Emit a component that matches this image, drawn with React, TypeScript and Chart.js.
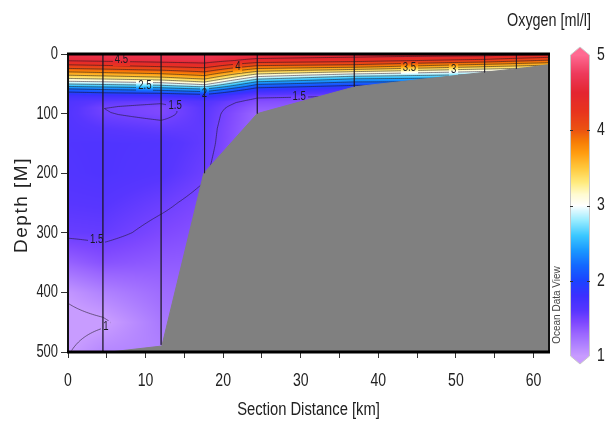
import React, { useEffect, useRef } from "react";
import { Chart, registerables } from "chart.js";

Chart.register(...registerables);

const FONT = '"Liberation Sans", Arial, sans-serif';

// Depth levels [m] of the gridded oxygen profiles
const DEPTHS = [0, 10, 20, 30, 40, 50, 60, 70, 80, 90, 100, 125, 150, 200, 250, 300, 350, 400, 450, 500];

// Section distance [km] of each gridded profile
const PROFILE_KM = [0, 4.5, 12, 17.6, 24.4, 36.9, 53.7, 57.8, 62];

// Oxygen [ml/l] per profile, one value per depth level
const O2_KM0 = [4.66, 4.55, 4.18, 3.75, 3.3, 2.78, 2.15, 1.76, 1.66, 1.64, 1.63, 1.64, 1.65, 1.64, 1.6, 1.54, 1.32, 1.04, 0.93, 0.99];
const O2_KM4 = [4.68, 4.58, 4.22, 3.8, 3.35, 2.82, 2.22, 1.78, 1.58, 1.5, 1.51, 1.6, 1.66, 1.66, 1.61, 1.55, 1.4, 1.15, 0.97, 1.12];
const O2_KM12 = [4.7, 4.62, 4.3, 3.88, 3.45, 2.9, 2.3, 1.8, 1.53, 1.44, 1.45, 1.56, 1.64, 1.62, 1.53, 1.45, 1.36, 1.27, 1.2, 1.15];
const O2_KM17 = [4.7, 4.65, 4.36, 4.0, 3.6, 3.1, 2.42, 1.88, 1.64, 1.6, 1.59, 1.57, 1.56, 1.52, 1.45, 1.4, 1.35, 1.3, 1.25, 1.2];
const O2_KM24 = [4.66, 4.45, 3.98, 3.45, 2.88, 2.3, 1.85, 1.55, 1.42, 1.35, 1.3, 1.28, 1.27, 1.26, 1.25, 1.22, 1.2, 1.18, 1.15, 1.15];
const O2_KM37 = [4.64, 4.38, 3.9, 3.22, 2.58, 2.1, 1.72, 1.5, 1.4, 1.35, 1.3, 1.28, 1.27, 1.26, 1.25, 1.22, 1.2, 1.18, 1.15, 1.15];
const O2_KM54 = [4.62, 4.22, 3.58, 2.95, 2.48, 2.12, 1.8, 1.6, 1.5, 1.45, 1.4, 1.35, 1.3, 1.28, 1.26, 1.24, 1.22, 1.2, 1.18, 1.15];
const O2_KM58 = [4.58, 4.12, 3.5, 2.9, 2.44, 2.1, 1.8, 1.6, 1.5, 1.45, 1.4, 1.35, 1.3, 1.28, 1.26, 1.24, 1.22, 1.2, 1.18, 1.15];
const O2_KM62 = [4.55, 4.02, 3.42, 2.86, 2.4, 2.1, 1.8, 1.6, 1.5, 1.45, 1.4, 1.35, 1.3, 1.28, 1.26, 1.24, 1.22, 1.2, 1.18, 1.15];
const PROFILES = [O2_KM0, O2_KM4, O2_KM12, O2_KM17, O2_KM24, O2_KM37, O2_KM54, O2_KM58, O2_KM62];

// CTD stations: position [km] and cast bottom [m]
const STATION_KM = [4.5, 12, 17.6, 24.4, 36.9, 53.7, 57.8];
const STATION_BOTTOM = [500, 488, 200, 100, 55, 31, 25];

// Seafloor outline
const SEAFLOOR_KM = [5.4, 12.1, 17.5, 24.4, 37, 59, 62];
const SEAFLOOR_DEPTH = [500, 490, 200, 100, 55, 23, 18];

// Isoline levels and their labels
const CONTOUR_LEVELS = [1, 1.5, 2, 2.25, 2.5, 2.75, 3, 3.25, 3.5, 3.75, 4, 4.25, 4.5];
const LABEL_KM = [6.9, 21.9, 44.0, 49.7, 9.9, 17.6, 13.8, 29.8, 3.7, 4.9];
const LABEL_DEPTH = [10, 22, 23, 27, 54, 66, 86, 72, 312, 458];
const LABEL_TEXT = ["4.5", "4", "3.5", "3", "2.5", "2", "1.5", "1.5", "1.5", "1"];

// Colour palette
const CMAP_VALUE = [1.0, 1.15, 1.3, 1.45, 1.6, 1.8, 2.0, 2.2, 2.4, 2.6, 2.8, 3.0, 3.15, 3.3, 3.5, 3.7, 3.85, 4.0, 4.25, 4.5, 4.75, 5.0];
const CMAP_COLOR = ["#c89cff", "#b082ff", "#9a66ff", "#7e48ff", "#5836ff", "#3c30ff", "#1c44ff", "#1468ff", "#1a98ff", "#3cc8ff", "#98ecff", "#ffffff", "#fffbd0", "#ffec80", "#ffc83c", "#ff9c10", "#f77c06", "#ec5412", "#e8341e", "#e42630", "#ee3a5c", "#ff6a92"];
const COLORBAR_TICKS = [1, 2, 3, 4, 5];

const X_TITLE = "Section Distance [km]";
const Y_TITLE = "Depth [M]";
const VAR_TITLE = "Oxygen [ml/l]";
const BRAND = "Ocean Data View";

function hexRgb(h: string): number[] {
  const n = parseInt(h.slice(1), 16);
  return [(n >> 16) & 255, (n >> 8) & 255, n & 255];
}
const CMAP_RGB = CMAP_COLOR.map(hexRgb);

function colorFor(v: number): number[] {
  const n = CMAP_VALUE.length;
  if (v <= CMAP_VALUE[0]) return CMAP_RGB[0];
  if (v >= CMAP_VALUE[n - 1]) return CMAP_RGB[n - 1];
  let k = 0;
  while (k < n - 2 && v > CMAP_VALUE[k + 1]) k++;
  const t = (v - CMAP_VALUE[k]) / (CMAP_VALUE[k + 1] - CMAP_VALUE[k]);
  const a = CMAP_RGB[k], b = CMAP_RGB[k + 1];
  return [a[0] + (b[0] - a[0]) * t, a[1] + (b[1] - a[1]) * t, a[2] + (b[2] - a[2]) * t];
}

function bracket(arr: number[], v: number): [number, number] {
  let k = 0;
  while (k < arr.length - 2 && v > arr[k + 1]) k++;
  let t = (v - arr[k]) / (arr[k + 1] - arr[k]);
  t = Math.max(0, Math.min(1, t));
  return [k, t];
}

// text drawn with a slight horizontal condensing
function narrowText(ctx: CanvasRenderingContext2D, txt: string, x: number, y: number, sx: number, align: CanvasTextAlign) {
  ctx.save();
  ctx.translate(x, y);
  ctx.scale(sx, 1);
  ctx.textAlign = align;
  ctx.fillText(txt, 0, 0);
  ctx.restore();
}

const sectionField = {
  id: "sectionField",
  beforeDatasetsDraw(chart: any) {
    const { ctx, chartArea: a, scales } = chart;
    const xs = scales.x, ys = scales.y;
    const w = Math.round(a.right - a.left);
    const h = Math.round(a.bottom - a.top);
    const cols = Array.from({ length: w }, (_, i) => bracket(PROFILE_KM, xs.getValueForPixel(a.left + i + 0.5)));
    const rows = Array.from({ length: h }, (_, j) => bracket(DEPTHS, ys.getValueForPixel(a.top + j + 0.5)));
    const vals = new Float32Array(w * h);
    for (let j = 0; j < h; j++) {
      const [m, u] = rows[j];
      for (let i = 0; i < w; i++) {
        const [k, t] = cols[i];
        const p0 = PROFILES[k], p1 = PROFILES[k + 1];
        vals[j * w + i] =
          (1 - t) * (1 - u) * p0[m] + t * (1 - u) * p1[m] + (1 - t) * u * p0[m + 1] + t * u * p1[m + 1];
      }
    }
    const off = document.createElement("canvas");
    off.width = w;
    off.height = h;
    const octx = off.getContext("2d")!;
    const img = octx.createImageData(w, h);
    for (let p = 0; p < w * h; p++) {
      const c = colorFor(vals[p]);
      img.data[p * 4] = c[0];
      img.data[p * 4 + 1] = c[1];
      img.data[p * 4 + 2] = c[2];
      img.data[p * 4 + 3] = 255;
    }
    octx.putImageData(img, 0, 0);
    ctx.save();
    ctx.drawImage(off, a.left, a.top, w, h);

    // isolines by marching squares over the sampled field
    ctx.beginPath();
    ctx.rect(a.left, a.top, w, h);
    ctx.clip();
    ctx.strokeStyle = "rgba(25,20,30,0.6)";
    ctx.lineWidth = 0.9;
    const s = 2;
    const V = (i: number, j: number) => vals[j * w + i];
    for (const L of CONTOUR_LEVELS) {
      ctx.beginPath();
      for (let j = 0; j + s < h; j += s) {
        for (let i = 0; i + s < w; i += s) {
          const v0 = V(i, j), v1 = V(i + s, j), v2 = V(i + s, j + s), v3 = V(i, j + s);
          const x0 = a.left + i + 0.5, y0 = a.top + j + 0.5, x1 = x0 + s, y1 = y0 + s;
          const pts: number[][] = [];
          const edge = (va: number, vb: number, ax: number, ay: number, bx: number, by: number) => {
            if ((va < L) !== (vb < L)) {
              const t = (L - va) / (vb - va);
              pts.push([ax + (bx - ax) * t, ay + (by - ay) * t]);
            }
          };
          edge(v0, v1, x0, y0, x1, y0);
          edge(v1, v2, x1, y0, x1, y1);
          edge(v2, v3, x1, y1, x0, y1);
          edge(v3, v0, x0, y1, x0, y0);
          if (pts.length >= 2) {
            ctx.moveTo(pts[0][0], pts[0][1]);
            ctx.lineTo(pts[1][0], pts[1][1]);
          }
          if (pts.length === 4) {
            ctx.moveTo(pts[2][0], pts[2][1]);
            ctx.lineTo(pts[3][0], pts[3][1]);
          }
        }
      }
      ctx.stroke();
    }

    // isoline labels, set into a small gap of the field
    ctx.font = `12px ${FONT}`;
    ctx.textBaseline = "middle";
    ctx.fillStyle = "#1a1a22";
    LABEL_TEXT.forEach((txt, n) => {
      const px = xs.getPixelForValue(LABEL_KM[n]);
      const py = ys.getPixelForValue(LABEL_DEPTH[n]);
      const tw = ctx.measureText(txt).width * 0.8;
      const rx = Math.round(px - tw / 2 - 2), ry = Math.round(py - 6);
      const rw = Math.round(tw + 4), rh = 12;
      const sx = Math.max(0, rx - a.left), sy = Math.max(0, ry - a.top);
      ctx.drawImage(off, sx, sy, rw, rh, a.left + sx, a.top + sy, rw, rh);
      narrowText(ctx, txt, px, py, 0.8, "center");
    });
    ctx.restore();
  },
  afterDatasetsDraw(chart: any) {
    const { ctx, chartArea: a } = chart;
    ctx.save();
    ctx.strokeStyle = "#111";
    ctx.lineWidth = 2;
    ctx.beginPath();
    ctx.moveTo(a.left, a.top);
    ctx.lineTo(a.left, a.bottom);
    ctx.moveTo(a.right, a.top);
    ctx.lineTo(a.right, a.bottom);
    ctx.stroke();
    ctx.lineWidth = 3;
    ctx.strokeStyle = "#000";
    ctx.beginPath();
    ctx.moveTo(a.left - 1, a.top);
    ctx.lineTo(a.right + 1, a.top);
    ctx.moveTo(a.left - 1, a.bottom);
    ctx.lineTo(a.right + 1, a.bottom);
    ctx.stroke();
    ctx.restore();
  },
  afterDraw(chart: any) {
    const { ctx, chartArea: a, scales } = chart;
    ctx.save();
    ctx.fillStyle = "#222";
    ctx.textBaseline = "middle";

    // axis numbers from the chart's own tick lists
    ctx.font = `18px ${FONT}`;
    scales.x.ticks.forEach((t: any) => {
      if (t.value % 10 !== 0) return;
      narrowText(ctx, String(t.value), scales.x.getPixelForValue(t.value), a.bottom + 29, 0.78, "center");
    });
    scales.y.ticks.forEach((t: any) => {
      narrowText(ctx, String(t.value), a.left - 10, scales.y.getPixelForValue(t.value), 0.72, "right");
    });

    // colour bar
    const bl = 562, br = 582, yTop = 47, yBot = 348;
    const vMin = COLORBAR_TICKS[0], vMax = COLORBAR_TICKS[COLORBAR_TICKS.length - 1];
    const yOf = (v: number) => yBot - ((v - vMin) / (vMax - vMin)) * (yBot - yTop);
    const cap = 8;
    for (let y = yTop; y < yBot; y++) {
      const v = vMax - ((y - yTop + 0.5) / (yBot - yTop)) * (vMax - vMin);
      const c = colorFor(v);
      ctx.fillStyle = `rgb(${c[0] | 0},${c[1] | 0},${c[2] | 0})`;
      ctx.fillRect(bl, y, br - bl, 1);
    }
    const mid = (bl + br) / 2;
    const top = colorFor(vMax), bot = colorFor(vMin);
    ctx.fillStyle = `rgb(${top[0] | 0},${top[1] | 0},${top[2] | 0})`;
    ctx.beginPath();
    ctx.moveTo(bl, yTop + 0.5);
    ctx.lineTo(mid, yTop - cap);
    ctx.lineTo(br, yTop + 0.5);
    ctx.closePath();
    ctx.fill();
    ctx.fillStyle = `rgb(${bot[0] | 0},${bot[1] | 0},${bot[2] | 0})`;
    ctx.beginPath();
    ctx.moveTo(bl, yBot - 0.5);
    ctx.lineTo(mid, yBot + cap);
    ctx.lineTo(br, yBot - 0.5);
    ctx.closePath();
    ctx.fill();
    ctx.strokeStyle = "#c8c8c8";
    ctx.lineWidth = 1;
    ctx.beginPath();
    ctx.moveTo(bl + 0.5, yTop);
    ctx.lineTo(mid, yTop - cap);
    ctx.lineTo(br - 0.5, yTop);
    ctx.lineTo(br - 0.5, yBot);
    ctx.lineTo(mid, yBot + cap);
    ctx.lineTo(bl + 0.5, yBot);
    ctx.closePath();
    ctx.stroke();
    ctx.strokeStyle = "#333";
    COLORBAR_TICKS.slice(1, -1).forEach((v) => {
      const y = Math.round(yOf(v)) + 0.5;
      ctx.beginPath();
      ctx.moveTo(bl, y);
      ctx.lineTo(bl + 3, y);
      ctx.moveTo(br - 3, y);
      ctx.lineTo(br, y);
      ctx.stroke();
    });
    ctx.fillStyle = "#222";
    ctx.font = `18px ${FONT}`;
    COLORBAR_TICKS.forEach((v) => narrowText(ctx, String(v), br + 7, yOf(v), 0.78, "left"));

    // titles
    narrowText(ctx, VAR_TITLE, 541, 13, 0.8, "center");
    narrowText(ctx, X_TITLE, (a.left + a.right) / 2, 402, 0.82, "center");
    ctx.save();
    ctx.translate(14, 197);
    ctx.rotate(-Math.PI / 2);
    ctx.font = `19px ${FONT}`;
    (ctx as any).letterSpacing = "1.5px";
    ctx.textAlign = "center";
    ctx.fillText(Y_TITLE, 0, 0);
    ctx.restore();
    ctx.save();
    ctx.translate(549, 297);
    ctx.rotate(-Math.PI / 2);
    ctx.fillStyle = "#444";
    ctx.font = `10px ${FONT}`;
    ctx.textAlign = "center";
    ctx.fillText(BRAND, 0, 0);
    ctx.restore();
    ctx.restore();
  },
};

export default function App() {
  const ref = useRef<HTMLCanvasElement>(null);
  useEffect(() => {
    const stationPts: { x: number; y: number | null }[] = [];
    STATION_KM.forEach((x, i) => {
      stationPts.push({ x, y: 0 }, { x, y: STATION_BOTTOM[i] }, { x, y: null });
    });
    const chart = new Chart(ref.current!, {
      type: "line",
      data: {
        datasets: [
          {
            label: "stations",
            data: stationPts as any,
            borderColor: "rgba(30,25,40,0.65)",
            borderWidth: 0.9,
            pointRadius: 0,
            fill: false,
            spanGaps: false,
            order: 0,
          },
          {
            label: "seafloor",
            data: SEAFLOOR_KM.map((x, i) => ({ x, y: SEAFLOOR_DEPTH[i] })) as any,
            borderColor: "#808080",
            backgroundColor: "#808080",
            borderWidth: 1,
            pointRadius: 0,
            fill: { value: 500 } as any,
            order: 1,
          },
        ],
      },
      options: {
        responsive: false,
        animation: false,
        events: [],
        layout: { padding: { left: 0, top: 46, right: 64, bottom: 0 } },
        plugins: { legend: { display: false }, tooltip: { enabled: false } },
        scales: {
          x: {
            type: "linear",
            min: 0,
            max: 62,
            afterFit: (s: any) => {
              s.height = 70;
            },
            grid: { drawOnChartArea: false, tickLength: 6, color: "#333" },
            border: { display: false },
            ticks: {
              stepSize: 5,
              includeBounds: false,
              maxRotation: 0,
              autoSkip: false,
              display: false,
            },
          },
          y: {
            type: "linear",
            min: 0,
            max: 500,
            reverse: true,
            afterFit: (s: any) => {
              s.width = 60;
            },
            grid: { drawOnChartArea: false, tickLength: 7, color: "#333" },
            border: { display: false },
            ticks: {
              stepSize: 100,
              display: false,
            },
          },
        },
      },
      plugins: [sectionField],
    } as any);
    return () => chart.destroy();
  }, []);
  return (
    <div style={{ width: 605, height: 414 }}>
      <canvas ref={ref} width={605} height={414} />
    </div>
  );
}
